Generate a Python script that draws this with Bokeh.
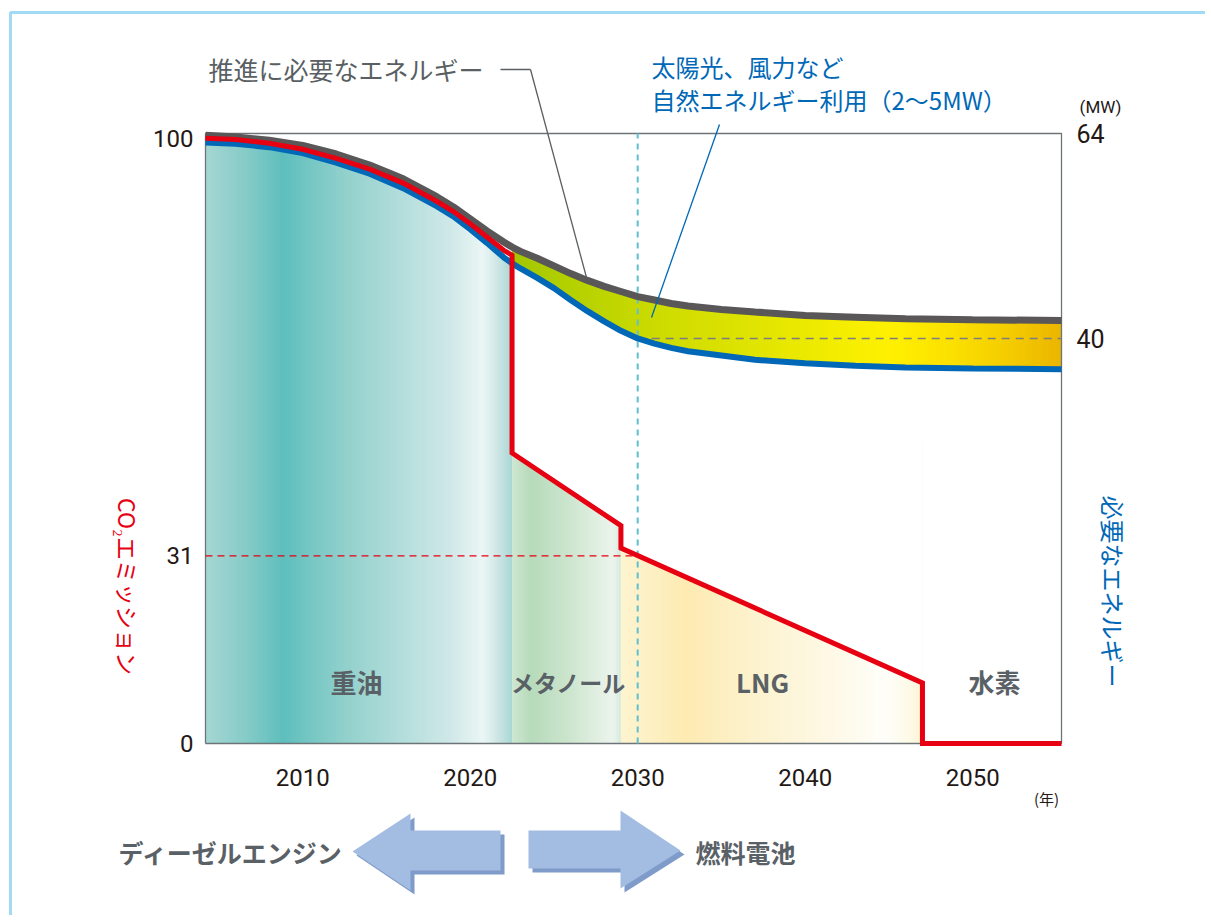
import numpy as np
from bokeh.plotting import figure
from bokeh.models import Range1d, Label, Arrow, PolyAnnotation
from bokeh.core.properties import value
from bokeh.embed import file_html
from bokeh.resources import INLINE

# ---------------- data ----------------
energy_years = [2004.2, 2006, 2008, 2010, 2012, 2014, 2016, 2018, 2019, 2020, 2021, 2022, 2022.5,
                2023, 2024, 2025, 2026, 2027, 2028, 2029, 2030, 2031, 2032, 2033, 2035,
                2037, 2040, 2043, 2046, 2050, 2055.3]
# 推進に必要なエネルギー (upper, grey) in MW
energy_total = [63.8, 63.6, 63.2, 62.6, 61.6, 60.3, 58.7, 56.6, 55.4, 54.0, 52.6, 51.3, 50.7,
                50.2, 49.4, 48.5, 47.6, 46.8, 46.1, 45.5, 44.9, 44.5, 44.1, 43.8, 43.4,
                43.1, 42.7, 42.5, 42.3, 42.2, 42.1]
# 必要なエネルギー (blue) in MW
energy_required = [62.95, 62.8, 62.4, 61.7, 60.6, 59.3, 57.6, 55.5, 54.3, 52.8, 51.2, 49.5, 48.8,
                   48.2, 47.1, 45.9, 44.5, 43.2, 42.0, 40.9, 40.0, 39.4, 38.9, 38.5, 38.0,
                   37.5, 37.1, 36.8, 36.6, 36.5, 36.4]
co2_years = [2004.2, 2006, 2008, 2010, 2012, 2014, 2016, 2018, 2019, 2020, 2021, 2022, 2022.5,
             2022.5, 2029, 2029, 2047, 2047, 2055.3]
co2_values = [100.0, 99.8, 99.2, 98.2, 96.7, 94.9, 92.6, 89.6, 87.9, 85.9, 83.7, 81.5, 80.7,
              48.0, 36.0, 32.3, 10.0, 0.0, 0.0]
fuel_switch_years = [2022.5, 2029, 2047]
fuel_labels = ["重油", "メタノール", "LNG", "水素"]
x_ticks = [2010, 2020, 2030, 2040, 2050]
co2_ticks = [0, 31, 100]
mw_ticks = [40, 64]
milestone_year = 2030
co2_at_milestone = 31
mw_at_milestone = 40

# ---------------- layout ----------------
X0, X1 = 2004.2, 2055.3          # chart box, years
Y0, Y1 = 0.0, 100.8              # chart box, CO2 index
M0, M1 = -7.42, 64.0             # chart box, MW
W, H = 1205, 915
BL, BR, BT, BB = 205, 1061, 133, 743   # chart box in canvas px

kx = (X1 - X0) / (BR - BL)
ky = (Y1 - Y0) / (BB - BT)
km = (M1 - M0) / (BB - BT)

def X(px):
    return X0 + (px - BL) * kx

def Y(py):
    return Y0 + (BB - py) * ky

JP = "Noto Sans CJK JP"
NUM = "Roboto"

p = figure(width=W, height=H, title=None,
           x_range=Range1d(X(0), X(W)), y_range=Range1d(Y(H), Y(0)),
           x_axis_location=None, y_axis_location=None,
           output_backend="svg", toolbar_location=None, min_border=0)
p.extra_y_ranges = {"mw": Range1d(M0 - (H - BB) * km, M1 + BT * km)}
p.grid.visible = False
p.outline_line_color = None
p.background_fill_color = "white"
p.border_fill_color = "white"

# ---------------- gradient helpers ----------------
def hex2rgb(h):
    return [int(h[i:i + 2], 16) for i in (1, 3, 5)]

def gradient(x0, x1, stops, n):
    edges = np.linspace(x0, x1, n + 1)
    fr = (np.arange(n) + 0.5) / n
    pos = [s[0] for s in stops]
    cols = np.array([hex2rgb(s[1]) for s in stops], dtype=float)
    r = np.interp(fr, pos, cols[:, 0])
    g = np.interp(fr, pos, cols[:, 1])
    b = np.interp(fr, pos, cols[:, 2])
    colors = ["#%02x%02x%02x" % (int(a), int(bb), int(c)) for a, bb, c in zip(r, g, b)]
    w = edges[1] - edges[0]
    right = np.minimum(edges[1:] + w * 0.6, x1)
    return list(edges[:-1]), list(right), colors

teal_stops = [(0, "#a6d7d4"), (0.13, "#87ccc8"), (0.255, "#5ebfbd"), (0.327, "#72c6c3"),
              (0.458, "#93d1cd"), (0.637, "#b3dedc"), (0.8, "#d0e9e8"), (0.905, "#ecf6f6"),
              (0.954, "#cde6e5"), (1.0, "#a9d8d6")]
green_stops = [(0, "#d0e7d2"), (0.17, "#b7dbbb"), (0.5, "#cbe5cd"), (0.85, "#e6f2e7"),
               (0.93, "#ecf5ed"), (1.0, "#d6eadb")]
yellow_stops = [(0, "#fdf4d0"), (0.13, "#fdefc0"), (0.22, "#fdebb2"), (0.38, "#fdf1c8"),
                (0.65, "#fef8e2"), (0.88, "#fffefa"), (0.96, "#fefae8"), (1.0, "#fdf3d0")]
band_stops = [(0, "#a2c600"), (0.09, "#b2d000"), (0.27, "#cedc00"), (0.45, "#e2e500"),
              (0.63, "#f8ef00"), (0.69, "#fff100"), (0.81, "#fbdf00"), (0.91, "#f4cb00"),
              (1.0, "#ebb500")]

s1, s2, s3 = fuel_switch_years

# 1. teal (heavy oil era) and renewable band, full box height
l, r, c = gradient(X0, s1, teal_stops, 160)
p.quad(left=l, right=r, bottom=Y0, top=Y1, fill_color=c, line_color=None)
l, r, c = gradient(s1, X1, band_stops, 280)
p.quad(left=l, right=r, bottom=Y0, top=Y1, fill_color=c, line_color=None)

# 2. white masks
ey = np.array(energy_years)
er = np.array(energy_required)
p.varea(x=energy_years, y1=energy_total, y2=M1, fill_color="white", y_range_name="mw")
m = ey <= s1
p.varea(x=list(ey[m]), y1=list(er[m]), y2=M1, fill_color="white", y_range_name="mw")
m = ey >= s1
p.varea(x=list(ey[m]), y1=M0, y2=list(er[m]), fill_color="white", y_range_name="mw")

# 3. methanol / LNG eras under the CO2 line
cy = np.array(co2_years)
cv = np.array(co2_values)
cap = 50
l, r, c = gradient(s1, s2, green_stops, 60)
p.quad(left=l, right=r, bottom=Y0, top=cap, fill_color=c, line_color=None)
l, r, c = gradient(s2, s3, yellow_stops, 150)
p.quad(left=l, right=r, bottom=Y0, top=cap, fill_color=c, line_color=None)
m = (cy >= s1) & (cy <= s3) & (cv > 0) & (cv < cap)
p.varea(x=list(cy[m]), y1=list(cv[m]), y2=cap, fill_color="white")

# 4. chart box and reference dashed lines
p.line(x=[X0, X1, X1, X0, X0], y=[Y0, Y0, Y1, Y1, Y0], line_color="#6d7478", line_width=1.3)
p.line(x=[milestone_year, milestone_year], y=[Y0, Y1], line_color="#5ec0d2",
       line_width=2, line_dash="6 5")
p.line(x=[X0, milestone_year], y=[co2_at_milestone, co2_at_milestone], line_color="#e60012",
       line_width=1.3, line_dash="7 5")
p.line(x=[milestone_year, X1], y=[mw_at_milestone, mw_at_milestone], line_color="#7d7d7d",
       line_width=1.5, line_dash="8 6", y_range_name="mw")

# 5. curves
p.line(energy_years, energy_total, line_color="#595757", line_width=7, y_range_name="mw")
p.line(energy_years, energy_required, line_color="#0068b7", line_width=6, y_range_name="mw")
p.line(co2_years, co2_values, line_color="#e60012", line_width=5, line_join="miter")

# 6. tick labels (through the chart's scales)
p.text(x=[X0] * len(co2_ticks), y=co2_ticks, text=[str(t) for t in co2_ticks],
       x_offset=-12, text_align="right", text_baseline="middle",
       text_font=value(NUM), text_font_size="24px", text_color="#231815")
p.text(x=[X1] * len(mw_ticks), y=mw_ticks, text=[str(t) for t in mw_ticks],
       x_offset=15, text_align="left", text_baseline="middle", y_range_name="mw",
       text_font=value(NUM), text_font_size="25px", text_color="#231815")
p.text(x=x_ticks, y=[Y0] * len(x_ticks), text=[str(t) for t in x_ticks],
       y_offset=34, text_align="center", text_baseline="middle",
       text_font=value(NUM), text_font_size="24px", text_color="#231815")

# ---------------- annotations ----------------
p.add_layout(PolyAnnotation(xs=[X(10), X(1300), X(1300), X(10)],
                            ys=[Y(12), Y(12), Y(1000), Y(1000)],
                            fill_alpha=0, line_color="#a3daf3", line_alpha=1, line_width=3))

for name, px, fs in zip(fuel_labels, [356, 568, 762, 994], ["26px", "23px", "26px", "26px"]):
    p.add_layout(Label(x=X(px), y=Y(681), text=name, text_font=JP, text_font_size=fs,
                       text_font_style="bold", text_color="#5a6166",
                       text_align="center", text_baseline="middle"))

p.add_layout(Label(x=X(127), y=Y(586), text="CO₂エミッション", text_font=JP,
                   text_font_size="23px", text_color="#e60012", angle=-np.pi / 2,
                   text_align="center", text_baseline="middle"))
p.add_layout(Label(x=X(1113), y=Y(591), text="必要なエネルギー", text_font=JP,
                   text_font_size="24px", text_color="#0068b7", angle=-np.pi / 2,
                   text_align="center", text_baseline="middle"))
p.add_layout(Label(x=X(1100), y=Y(106), text="(MW)", text_font=NUM,
                   text_font_size="17px", text_color="#231815",
                   text_align="center", text_baseline="middle"))
p.add_layout(Label(x=X(1046), y=Y(798), text="(年)", text_font=JP,
                   text_font_size="15px", text_color="#231815",
                   text_align="center", text_baseline="middle"))

p.add_layout(Label(x=X(483), y=Y(68), text="推進に必要なエネルギー", text_font=JP,
                   text_font_size="25px", text_color="#595f63",
                   text_align="right", text_baseline="middle"))
p.add_layout(Arrow(end=None, x_start=X(500), y_start=Y(69), x_end=X(530), y_end=Y(69),
                   line_color="#595f63", line_width=1.3))
p.add_layout(Arrow(end=None, x_start=X(530), y_start=Y(69), x_end=X(586), y_end=Y(277),
                   line_color="#595f63", line_width=1.3))
p.add_layout(Label(x=X(651), y=Y(66), text="太陽光、風力など", text_font=JP,
                   text_font_size="24px", text_color="#0068b7",
                   text_align="left", text_baseline="middle"))
p.add_layout(Label(x=X(651), y=Y(99), text="自然エネルギー利用（2～5MW）", text_font=JP,
                   text_font_size="24px", text_color="#0068b7",
                   text_align="left", text_baseline="middle"))
p.add_layout(Arrow(end=None, x_start=X(719), y_start=Y(124), x_end=X(651), y_end=Y(317),
                   line_color="#0068b7", line_width=1.3))

def poly(pts, dx=0, dy=0, color="#a3bce2"):
    return PolyAnnotation(xs=[X(a + dx) for a, b in pts], ys=[Y(b + dy) for a, b in pts],
                          fill_color=color, fill_alpha=1, line_color=None)

left_arrow = [(352, 851), (410, 813), (410, 830), (500, 830), (500, 870), (410, 870), (410, 890)]
right_arrow = [(528, 830), (620, 830), (620, 810), (680, 850), (620, 888), (620, 868), (528, 868)]
for shape in (left_arrow, right_arrow):
    p.add_layout(poly(shape, 4, 4, "#7f9bc9"))
    p.add_layout(poly(shape))
p.add_layout(Label(x=X(343), y=Y(851), text="ディーゼルエンジン", text_font=JP,
                   text_font_size="25px", text_font_style="bold", text_color="#5a6166",
                   text_align="right", text_baseline="middle"))
p.add_layout(Label(x=X(695), y=Y(851), text="燃料電池", text_font=JP,
                   text_font_size="25px", text_font_style="bold", text_color="#5a6166",
                   text_align="left", text_baseline="middle"))

open("out.html", "w").write(file_html(p, INLINE))
